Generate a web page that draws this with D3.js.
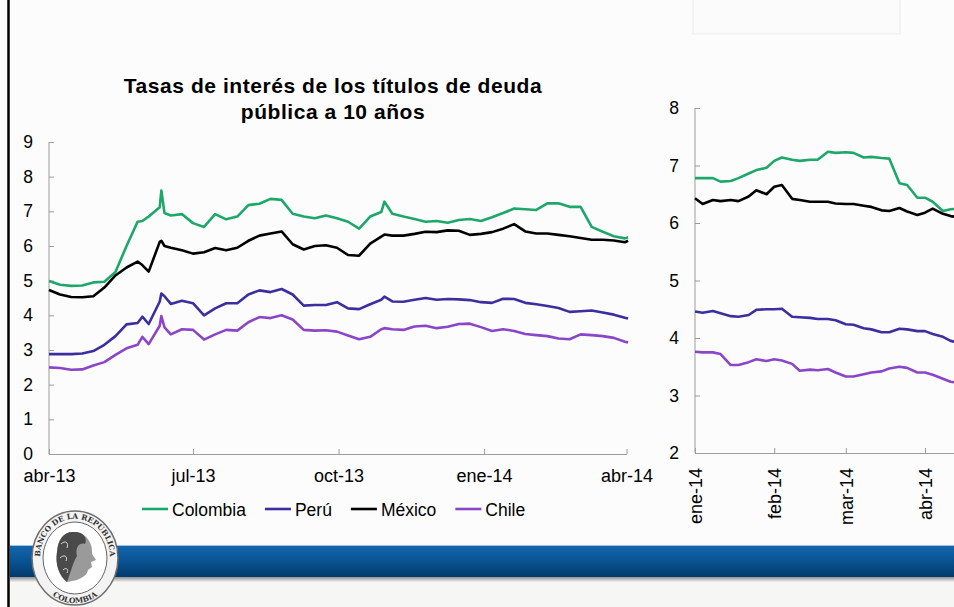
<!DOCTYPE html>
<html>
<head>
<meta charset="utf-8">
<script src="https://cdn.jsdelivr.net/npm/d3@7"></script>
<style>
body { margin: 0; background: #fcfcfc; }
svg { display: block; font-family: "Liberation Sans", Arial, sans-serif; }
</style>
</head>
<body>
<svg id="chart" width="954" height="607"></svg>
<script>
// ---- data ----
const seriesNames = ["Colombia", "Perú", "México", "Chile"];

// left panel: abr-13 .. abr-14
const leftDates = ["2013-04-01","2013-04-08","2013-04-15","2013-04-22","2013-04-29","2013-05-06","2013-05-13","2013-05-20","2013-05-27","2013-05-30",
  "2013-06-03","2013-06-10","2013-06-11","2013-06-13","2013-06-17","2013-06-24","2013-07-01","2013-07-08","2013-07-15","2013-07-22",
  "2013-07-29","2013-08-05","2013-08-12","2013-08-19","2013-08-26","2013-09-02","2013-09-09","2013-09-16","2013-09-23","2013-09-30",
  "2013-10-07","2013-10-14","2013-10-21","2013-10-28","2013-10-30","2013-11-04","2013-11-11","2013-11-18","2013-11-25","2013-12-02",
  "2013-12-09","2013-12-16","2013-12-23","2013-12-30","2014-01-06","2014-01-13","2014-01-20","2014-01-27","2014-02-03","2014-02-10",
  "2014-02-17","2014-02-24","2014-03-03","2014-03-10","2014-03-17","2014-03-24","2014-03-31","2014-04-02"];
const leftColombia = [4.99,4.88,4.85,4.86,4.95,4.97,5.25,6.0,6.7,6.72,
  6.85,7.12,7.6,6.95,6.88,6.92,6.66,6.55,6.92,6.77,
  6.85,7.18,7.22,7.36,7.33,6.93,6.85,6.8,6.88,6.8,
  6.7,6.5,6.85,6.98,7.28,6.93,6.85,6.78,6.7,6.72,
  6.67,6.75,6.78,6.72,6.83,6.95,7.08,7.06,7.04,7.23,
  7.23,7.13,7.13,6.55,6.41,6.28,6.22,6.25];
const leftPeru = [2.88,2.88,2.88,2.9,2.97,3.15,3.4,3.74,3.78,3.96,
  3.75,4.4,4.63,4.55,4.33,4.42,4.35,4.0,4.2,4.35,
  4.35,4.6,4.72,4.67,4.76,4.6,4.28,4.3,4.3,4.38,
  4.2,4.18,4.32,4.45,4.54,4.4,4.39,4.45,4.5,4.45,
  4.47,4.46,4.44,4.38,4.36,4.48,4.47,4.36,4.32,4.27,
  4.21,4.1,4.12,4.14,4.08,4.02,3.93,3.91];
const leftMexico = [4.73,4.6,4.53,4.52,4.55,4.8,5.15,5.38,5.55,5.45,
  5.26,6.12,6.15,6.0,5.95,5.88,5.78,5.82,5.94,5.88,
  5.95,6.15,6.3,6.36,6.42,6.05,5.9,6.0,6.02,5.95,
  5.74,5.72,6.07,6.27,6.33,6.3,6.3,6.35,6.41,6.4,
  6.45,6.44,6.32,6.35,6.4,6.5,6.63,6.42,6.36,6.36,
  6.32,6.28,6.23,6.18,6.18,6.16,6.11,6.15];
const leftChile = [2.5,2.48,2.43,2.44,2.55,2.65,2.86,3.05,3.15,3.38,
  3.17,3.7,3.98,3.65,3.45,3.6,3.58,3.3,3.45,3.58,
  3.56,3.8,3.95,3.92,4.0,3.88,3.58,3.56,3.57,3.53,
  3.42,3.31,3.38,3.6,3.63,3.6,3.58,3.68,3.7,3.63,
  3.67,3.75,3.76,3.66,3.55,3.6,3.55,3.46,3.43,3.4,
  3.33,3.31,3.45,3.43,3.4,3.35,3.24,3.22];
const leftTickDates = ["2013-04-01","2013-07-01","2013-10-01","2014-01-01","2014-04-01"];
const leftTickLabels = ["abr-13","jul-13","oct-13","ene-14","abr-14"];
const leftYTicks = [0,1,2,3,4,5,6,7,8,9];

// right panel: ene-14 onwards (cut at the page edge)
const rightDates = ["2014-01-01","2014-01-04","2014-01-08","2014-01-11","2014-01-15","2014-01-18","2014-01-22","2014-01-25","2014-01-29",
  "2014-02-01","2014-02-04","2014-02-08","2014-02-11","2014-02-15","2014-02-18","2014-02-22","2014-02-25",
  "2014-03-01","2014-03-04","2014-03-08","2014-03-11","2014-03-15","2014-03-18","2014-03-22","2014-03-25","2014-03-29",
  "2014-04-01","2014-04-04","2014-04-08","2014-04-11","2014-04-14"];
const rightColombia = [6.78,6.78,6.78,6.72,6.73,6.78,6.86,6.92,6.96,
  7.08,7.14,7.1,7.08,7.1,7.1,7.24,7.22,
  7.23,7.22,7.14,7.15,7.13,7.12,6.69,6.66,6.44,
  6.44,6.37,6.21,6.24,6.25];
const rightPeru = [4.46,4.44,4.47,4.43,4.38,4.37,4.4,4.49,4.5,
  4.5,4.51,4.37,4.36,4.35,4.33,4.33,4.31,
  4.24,4.23,4.17,4.15,4.1,4.1,4.16,4.15,4.12,
  4.12,4.07,4.02,3.95,3.92];
const rightMexico = [6.43,6.33,6.4,6.38,6.4,6.38,6.46,6.57,6.5,
  6.63,6.66,6.42,6.4,6.37,6.37,6.37,6.34,
  6.33,6.33,6.3,6.28,6.22,6.21,6.26,6.2,6.14,
  6.18,6.25,6.16,6.12,6.1];
const rightChile = [3.76,3.75,3.75,3.72,3.53,3.53,3.58,3.63,3.6,
  3.63,3.61,3.55,3.43,3.45,3.44,3.46,3.4,
  3.33,3.33,3.37,3.4,3.42,3.47,3.5,3.48,3.4,
  3.4,3.36,3.29,3.24,3.22];
const rightTickDates = ["2014-01-01","2014-02-01","2014-03-01","2014-04-01"];
const rightTickLabels = ["ene-14","feb-14","mar-14","abr-14"];
const rightYTicks = [2,3,4,5,6,7,8];

const titleLines = ["Tasas de interés de los títulos de deuda", "pública a 10 años"];

// ---- styles ----
const colors = ["#1ea76b", "#3b2f9f", "#000000", "#8a45c8"];
const axisColor = "#9c9c9c";
const parse = d3.timeParse("%Y-%m-%d");

const svg = d3.select("#chart");

// background decoration of the slide
svg.append("rect").attr("x", 0).attr("y", 0).attr("width", 954).attr("height", 607).attr("fill", "#fcfcfc");
svg.append("rect").attr("x", 693).attr("y", -2).attr("width", 207).attr("height", 36)
  .attr("fill", "#fbfbfb").attr("stroke", "#f1f1f1").attr("stroke-width", 1.5);

function drawPanel(cfg) {
  const x = d3.scaleTime().domain(cfg.xDomain.map(parse)).range(cfg.xRange);
  const y = d3.scaleLinear().domain(cfg.yDomain).range(cfg.yRange);
  const g = svg.append("g");

  const yAxis = g.append("g")
    .attr("transform", "translate(" + cfg.xRange[0] + ",0)")
    .call(d3.axisLeft(y).tickValues(cfg.yTicks).tickSize(-5).tickSizeOuter(0).tickPadding(cfg.yPad).tickFormat(d3.format("d")));
  yAxis.selectAll("path,line").attr("stroke", axisColor);
  yAxis.selectAll("text").attr("font-size", 17.5).attr("fill", "#000").style("font-family", "Liberation Sans, Arial, sans-serif");

  const xAxis = g.append("g")
    .attr("transform", "translate(0," + cfg.yRange[0] + ")")
    .call(d3.axisBottom(x).tickValues(cfg.xTicks.map(parse)).tickSize(-5).tickSizeOuter(0).tickPadding(15)
      .tickFormat((d, i) => cfg.xLabels[i]));
  xAxis.selectAll("path,line").attr("stroke", axisColor);
  xAxis.selectAll("text").attr("font-size", 18).attr("fill", "#000").style("font-family", "Liberation Sans, Arial, sans-serif");
  if (cfg.rotate) {
    xAxis.selectAll("text")
      .attr("transform", "rotate(-90)")
      .attr("text-anchor", "end")
      .attr("x", -15).attr("y", 0).attr("dy", "0.36em");
  }
  yAxis.select(".domain").remove();
  g.append("line").attr("x1", cfg.xRange[0]).attr("x2", cfg.xRange[0])
    .attr("y1", cfg.yRange[0]).attr("y2", cfg.yRange[1]).attr("stroke", axisColor);

  const line = d3.line().x(d => x(d.date)).y(d => y(d.v));
  cfg.series.forEach((vals, k) => {
    const pts = cfg.dates.map((d, i) => ({ date: parse(d), v: vals[i] }));
    g.append("path").datum(pts)
      .attr("fill", "none").attr("stroke", colors[k]).attr("stroke-width", 2.6)
      .attr("stroke-linejoin", "round").attr("d", line);
  });
}

drawPanel({
  xDomain: ["2013-04-01", "2014-04-01"], xRange: [49, 626.5],
  yDomain: [0, 9], yRange: [454, 142],
  yTicks: leftYTicks, yPad: 16,
  xTicks: leftTickDates, xLabels: leftTickLabels,
  dates: leftDates, series: [leftColombia, leftPeru, leftMexico, leftChile]
});

drawPanel({
  xDomain: ["2014-01-01", "2014-04-15"], xRange: [695, 960.8],
  yDomain: [2, 8], yRange: [453, 108],
  yTicks: rightYTicks, yPad: 16,
  xTicks: rightTickDates, xLabels: rightTickLabels, rotate: true,
  dates: rightDates, series: [rightColombia, rightPeru, rightMexico, rightChile]
});

// title
svg.append("text").attr("x", 333).attr("y", 93).attr("text-anchor", "middle")
  .attr("font-size", 21).attr("font-weight", "bold").attr("letter-spacing", 0.55).text(titleLines[0]);
svg.append("text").attr("x", 333).attr("y", 119).attr("text-anchor", "middle")
  .attr("font-size", 21).attr("font-weight", "bold").attr("letter-spacing", 0.55).text(titleLines[1]);

// legend
const legend = svg.append("g");
let lx = 142;
seriesNames.forEach((name, k) => {
  legend.append("line").attr("x1", lx).attr("x2", lx + 26).attr("y1", 509).attr("y2", 509)
    .attr("stroke", colors[k]).attr("stroke-width", 2.6);
  const t = legend.append("text").attr("x", lx + 30).attr("y", 516).attr("font-size", 17.5).text(name);
  lx += 30 + t.node().getComputedTextLength() + 19;
});

// bottom blue band
const defs = svg.append("defs");
const grad = defs.append("linearGradient").attr("id", "band").attr("x1", 0).attr("y1", 0).attr("x2", 0).attr("y2", 1);
grad.append("stop").attr("offset", "0%").attr("stop-color", "#1566b0");
grad.append("stop").attr("offset", "45%").attr("stop-color", "#0a5596");
grad.append("stop").attr("offset", "100%").attr("stop-color", "#023a6c");
const shadow = defs.append("linearGradient").attr("id", "shadow").attr("x1", 0).attr("y1", 0).attr("x2", 0).attr("y2", 1);
shadow.append("stop").attr("offset", "0%").attr("stop-color", "#7d7d7d");
shadow.append("stop").attr("offset", "100%").attr("stop-color", "#f2f2f2");

svg.append("rect").attr("x", 10).attr("y", 578).attr("width", 944).attr("height", 29).attr("fill", "#f6f6f4");
svg.append("rect").attr("x", 10).attr("y", 576).attr("width", 944).attr("height", 6).attr("fill", "url(#shadow)");
svg.append("rect").attr("x", 10).attr("y", 545).attr("width", 944).attr("height", 32).attr("fill", "url(#band)");
svg.append("line").attr("x1", 10).attr("x2", 954).attr("y1", 545.5).attr("y2", 545.5).attr("stroke", "#9cc3e6").attr("stroke-width", 1);

// seal
const seal = svg.append("g").attr("transform", "translate(75,558)");
seal.append("ellipse").attr("rx", 43).attr("ry", 47).attr("fill", "#f3f3f3").attr("stroke", "#6e6e6e").attr("stroke-width", 1.5);
seal.append("ellipse").attr("rx", 32).attr("ry", 36).attr("fill", "#ffffff").attr("stroke", "#666").attr("stroke-width", 1);
defs.append("path").attr("id", "arcTop").attr("d", "M -34,9 A 35,39 0 1 1 34,9");
defs.append("path").attr("id", "arcBot").attr("d", "M -28,33 A 41,45 0 0 0 28,33");
seal.append("text").attr("font-size", 7.5).attr("font-family", "DejaVu Serif, serif").attr("font-weight", "bold").attr("fill", "#333")
  .append("textPath").attr("href", "#arcTop").attr("startOffset", "50%").attr("text-anchor", "middle").text("BANCO DE LA REPÚBLICA");
seal.append("text").attr("font-size", 7.5).attr("font-family", "DejaVu Serif, serif").attr("font-weight", "bold").attr("fill", "#333")
  .append("textPath").attr("href", "#arcBot").attr("startOffset", "50%").attr("text-anchor", "middle").text("COLOMBIA");
// profile head (simplified)
seal.append("path").attr("fill", "#9a9a9a")
  .attr("d", "M -2,-26 C 12,-26 18,-14 17,-4 L 21,2 L 16,4 L 17,9 L 13,12 C 12,18 6,20 2,22 L -8,24 C -16,18 -20,6 -18,-6 C -17,-18 -12,-26 -2,-26 Z");
seal.append("path").attr("fill", "#4a4a4a")
  .attr("d", "M -2,-26 C 8,-27 13,-20 10,-14 C 4,-16 0,-10 2,-2 C -2,4 -4,14 -8,24 C -16,18 -20,6 -18,-6 C -17,-18 -12,-26 -2,-26 Z");
seal.append("path").attr("fill", "none").attr("stroke", "#d8d8d8").attr("stroke-width", 1)
  .attr("d", "M -14,-14 C -10,-18 -6,-16 -8,-10 M -15,0 C -11,-4 -7,-2 -9,3 M -12,12 C -9,9 -6,11 -8,15");

// left border of the slide
svg.append("line").attr("x1", 8.5).attr("x2", 8.5).attr("y1", 0).attr("y2", 607).attr("stroke", "#000").attr("stroke-width", 2.5);
</script>
</body>
</html>
